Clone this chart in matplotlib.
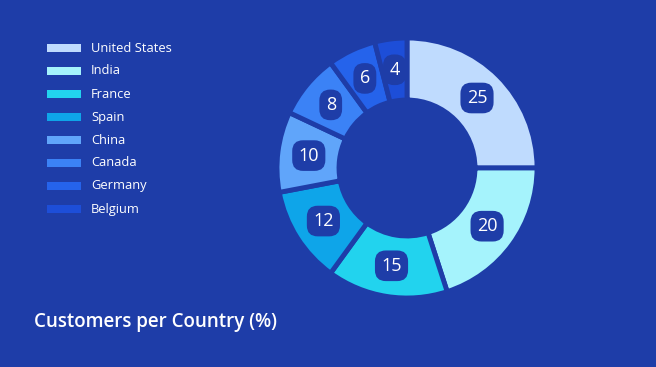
import matplotlib.pyplot as plt
from matplotlib.patches import Rectangle
import numpy as np

countries = ['United States', 'India', 'France', 'Spain', 'China', 'Canada', 'Germany', 'Belgium']
customers = [25, 20, 15, 12, 10, 8, 6, 4]
colors = ['#bfdbfe', '#a5f3fc', '#22d3ee', '#0ea5e9', '#60a5fa', '#3b82f6', '#2563eb', '#1d4ed8']
bg = '#1e3da8'

plt.rcParams['font.family'] = ['Open Sans', 'DejaVu Sans']

W, H = 656, 367
fig = plt.figure(figsize=(W / 100, H / 100), dpi=100)
fig.patch.set_facecolor(bg)

# donut
cx, cy, half = 407, 168, 140
ax = fig.add_axes([(cx - half) / W, (H - cy - half) / H, 2 * half / W, 2 * half / H])
ax.set_facecolor(bg)
r_out = 130 / half
r_in = 68 / half
wedges, _ = ax.pie(customers, colors=colors, startangle=90, counterclock=False,
                   radius=r_out,
                   wedgeprops=dict(width=r_out - r_in, edgecolor=bg, linewidth=3.5))
ax.set_xlim(-1, 1)
ax.set_ylim(-1, 1)
ax.set_aspect('equal')
ax.axis('off')

r_mid = (r_out + r_in) / 2
for w, v in zip(wedges, customers):
    ang = np.deg2rad((w.theta1 + w.theta2) / 2)
    ax.text(r_mid * np.cos(ang), r_mid * np.sin(ang), str(v), ha='center', va='center',
            fontsize=13, color='white',
            bbox=dict(boxstyle='round,pad=0.35,rounding_size=0.6', fc=bg, ec='none'))

# legend
for i, (name, c) in enumerate(zip(countries, colors)):
    y = 48 + i * 23
    fig.patches.append(Rectangle((47 / W, (H - y - 4) / H), 34 / W, 8 / H,
                                 transform=fig.transFigure, fc=c, ec='none'))
    fig.text(91 / W, (H - y) / H, name, color='white', fontsize=9.3, va='center', ha='left')

fig.text(34 / W, (H - 322) / H, 'Customers per Country (%)', color='white',
         fontsize=13.5, va='center', ha='left', fontweight='semibold')

fig.savefig('out.png', facecolor=bg)
